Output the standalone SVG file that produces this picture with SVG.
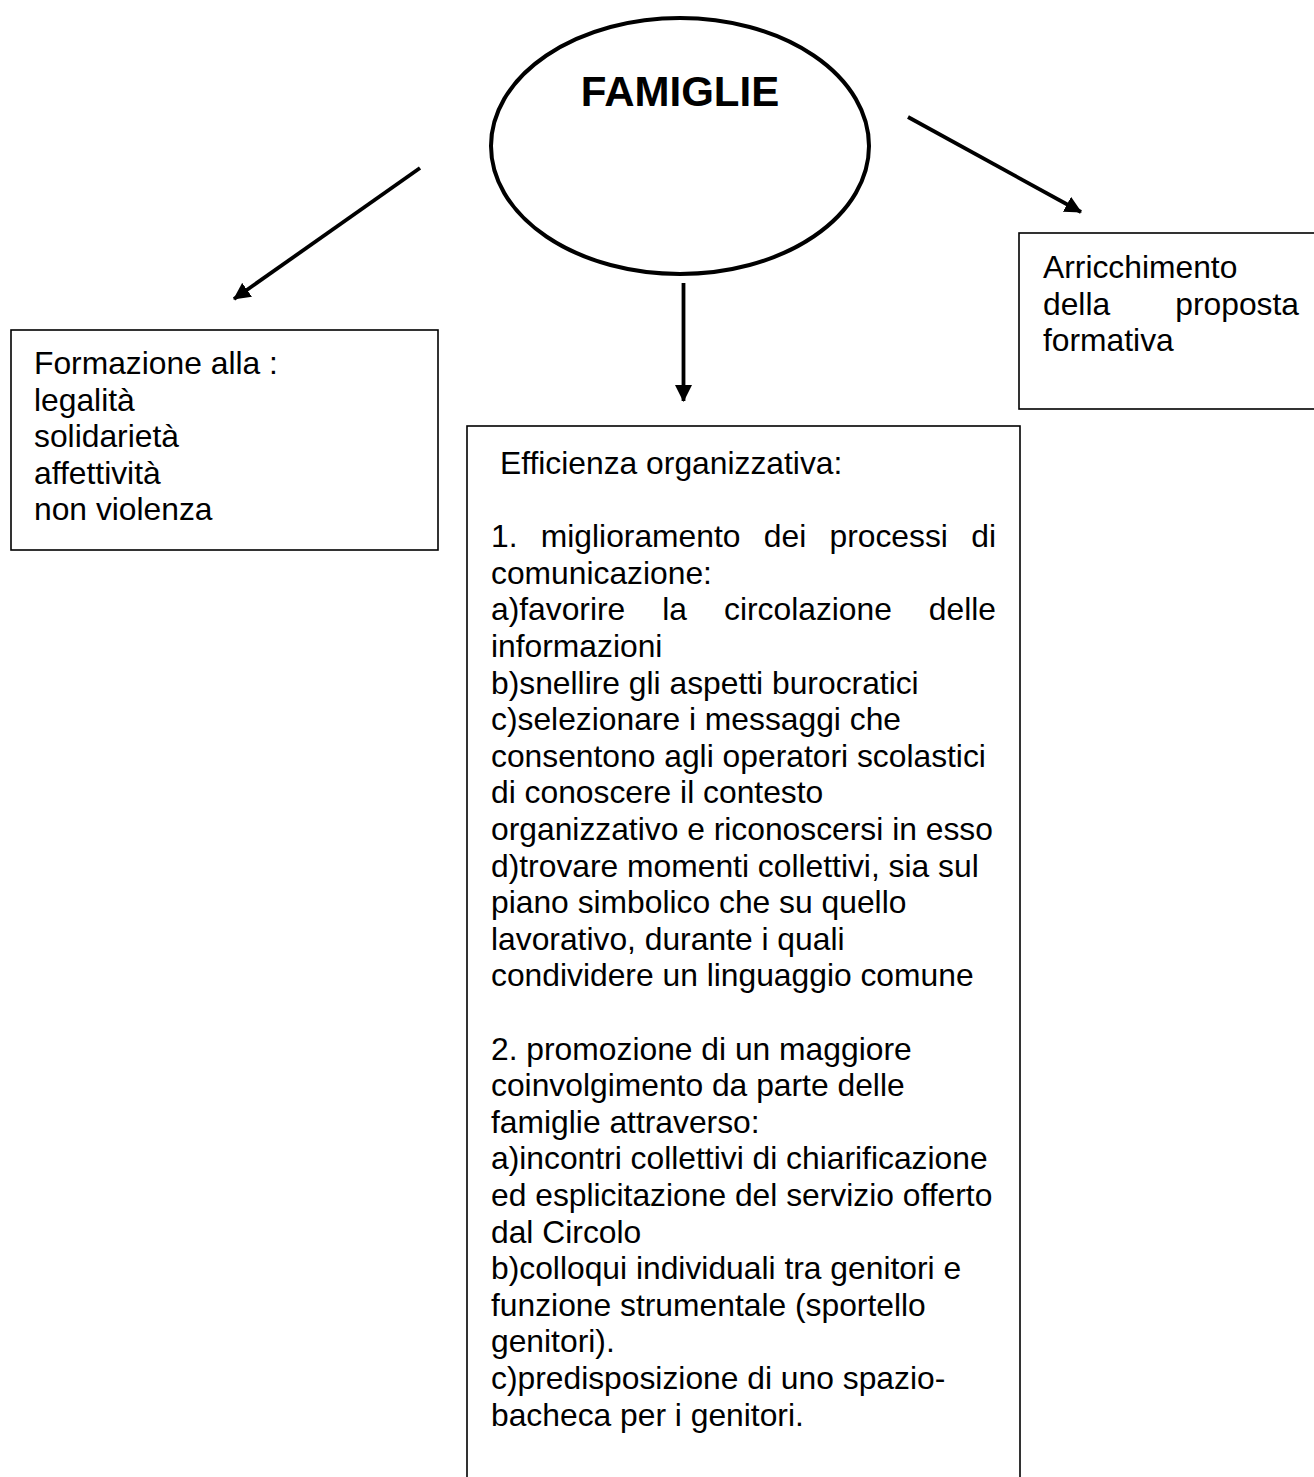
<svg xmlns="http://www.w3.org/2000/svg" width="1314" height="1477" viewBox="0 0 1314 1477">
<style>
.t{font-family:"Liberation Sans",Arial,sans-serif;font-size:31.8px;fill:#000}
.title{font-family:"Liberation Sans",Arial,sans-serif;font-size:42px;font-weight:bold;fill:#000}
.box{fill:#fff;stroke:#000;stroke-width:1.6}
.conn{stroke:#000;stroke-width:3.8;fill:none}
</style>
<defs>
<marker id="ah" markerUnits="userSpaceOnUse" markerWidth="17" markerHeight="17" viewBox="0 0 17 17" refX="16" refY="8.5" orient="auto">
<path d="M0,0 L17,8.5 L0,17 Z" fill="#000"/>
</marker>
</defs>
<rect width="1314" height="1477" fill="#fff"/>
<g id="connectors">
<line class="conn" x1="420" y1="168" x2="234" y2="299" marker-end="url(#ah)"/>
<line class="conn" x1="683.5" y1="283" x2="683.5" y2="401" marker-end="url(#ah)"/>
<line class="conn" x1="908" y1="117" x2="1081" y2="212" marker-end="url(#ah)"/>
</g>
<g id="famiglie">
<ellipse cx="680" cy="146" rx="189" ry="128" fill="#fff" stroke="#000" stroke-width="4"/>
<text class="title" x="680" y="106" text-anchor="middle">FAMIGLIE</text>
</g>
<g id="formazione">
<rect class="box" x="11" y="330" width="427" height="220"/>
<text class="t" x="34" y="374">Formazione alla :</text>
<text class="t" x="34" y="410.6">legalità</text>
<text class="t" x="34" y="447.2">solidarietà</text>
<text class="t" x="34" y="483.8">affettività</text>
<text class="t" x="34" y="520.4">non violenza</text>
</g>
<g id="arricchimento">
<rect class="box" x="1019" y="233" width="305" height="176"/>
<text class="t" x="1043" y="278">Arricchimento</text>
<text class="t" y="314.6"><tspan x="1043">della</tspan><tspan x="1299" text-anchor="end">proposta</tspan></text>
<text class="t" x="1043" y="351.2">formativa</text>
</g>
<g id="efficienza">
<rect class="box" x="467" y="426" width="553" height="1060"/>
<text class="t" x="500" y="474">Efficienza organizzativa:</text>
<text class="t" y="547.2"><tspan x="491">1.</tspan><tspan x="540.8">miglioramento</tspan><tspan x="763.8">dei</tspan><tspan x="829.5">processi</tspan><tspan x="996" text-anchor="end">di</tspan></text>
<text class="t" x="491" y="583.8">comunicazione:</text>
<text class="t" y="620.4"><tspan x="491">a)favorire</tspan><tspan x="662.3">la</tspan><tspan x="724">circolazione</tspan><tspan x="996" text-anchor="end">delle</tspan></text>
<text class="t" x="491" y="657">informazioni</text>
<text class="t" x="491" y="693.6">b)snellire gli aspetti burocratici</text>
<text class="t" x="491" y="730.2">c)selezionare i messaggi che</text>
<text class="t" x="491" y="766.8">consentono agli operatori scolastici</text>
<text class="t" x="491" y="803.4">di conoscere il contesto</text>
<text class="t" x="491" y="840">organizzativo e riconoscersi in esso</text>
<text class="t" x="491" y="876.6">d)trovare momenti collettivi, sia sul</text>
<text class="t" x="491" y="913.2">piano simbolico che su quello</text>
<text class="t" x="491" y="949.8">lavorativo, durante i quali</text>
<text class="t" x="491" y="986.4">condividere un linguaggio comune</text>
<text class="t" x="491" y="1059.6">2. promozione di un maggiore</text>
<text class="t" x="491" y="1096.2">coinvolgimento da parte delle</text>
<text class="t" x="491" y="1132.8">famiglie attraverso:</text>
<text class="t" x="491" y="1169.4">a)incontri collettivi di chiarificazione</text>
<text class="t" x="491" y="1206">ed esplicitazione del servizio offerto</text>
<text class="t" x="491" y="1242.6">dal Circolo</text>
<text class="t" x="491" y="1279.2">b)colloqui individuali tra genitori e</text>
<text class="t" x="491" y="1315.8">funzione strumentale (sportello</text>
<text class="t" x="491" y="1352.4">genitori).</text>
<text class="t" x="491" y="1389">c)predisposizione di uno spazio-</text>
<text class="t" x="491" y="1425.6">bacheca per i genitori.</text>
</g>
</svg>
